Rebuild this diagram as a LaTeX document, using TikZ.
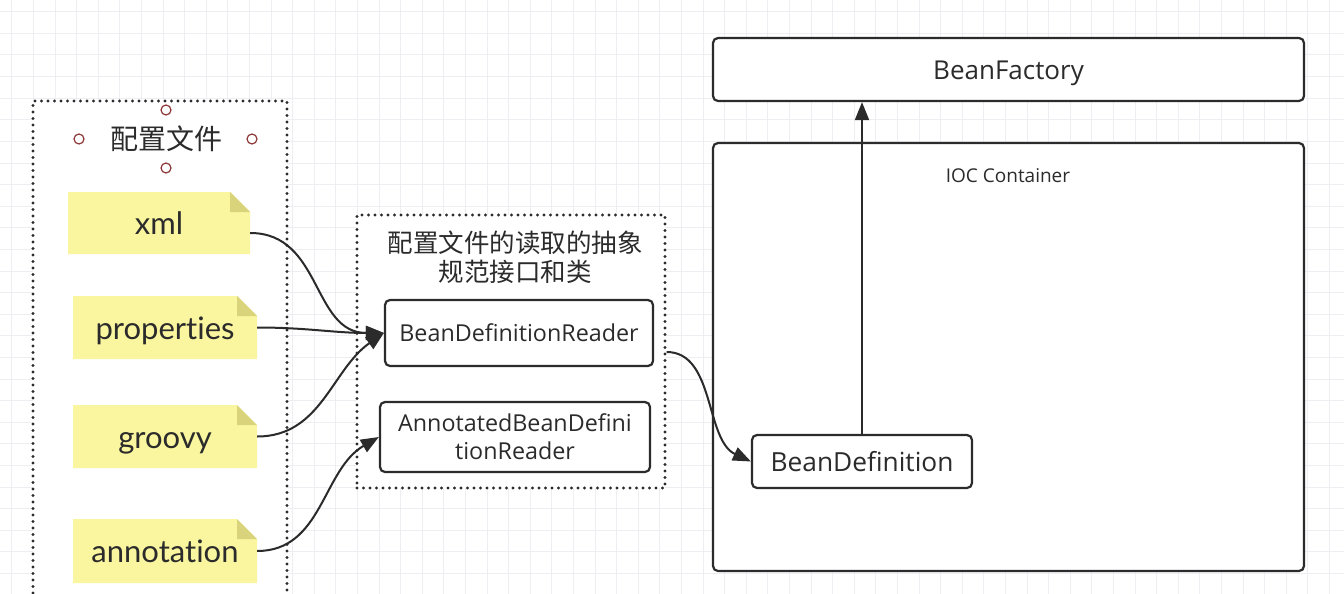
\documentclass[tikz,border=0pt]{standalone}
\usepackage{fontspec}
\setmainfont{Open Sans}
\newfontfamily\cjk{Noto Sans CJK SC}
\newfontfamily\notefont[Ligatures=NoCommon]{Lato}
\usetikzlibrary{arrows.meta,calc}
\definecolor{ink}{HTML}{2B2B2B}
\definecolor{notefill}{HTML}{FAF59F}
\definecolor{notefold}{HTML}{D9D37C}
\definecolor{handle}{HTML}{8E3A3A}
\definecolor{gridc}{HTML}{EDEDF2}

% sticky note: name, x1, y1, x2, y2, text
\newcommand\stickynote[6]{%
  \fill[notefill] (#2,#3) -- ({#4-20},#3) -- (#4,{#3+20}) -- (#4,#5) -- (#2,#5) -- cycle;
  \fill[notefold] ({#4-20},#3) -- (#4,{#3+20}) -- ({#4-20},{#3+20}) -- cycle;
  \node[notebox, minimum width={#4-#2}, minimum height={#5-#3}] (#1) at ({(#2+#4)/2},{(#3+#5)/2}) {#6};}

\begin{document}
\begin{tikzpicture}[x=1pt,y=-1pt,
  box/.style={draw=ink, line width=2.2pt, rounded corners=5pt, fill=white, text=ink, inner sep=0pt},
  group/.style={draw=ink, line width=3.2pt, line cap=round, dash pattern=on 0pt off 6.5pt, fill=white, inner sep=0pt},
  conn/.style={draw=ink, line width=2pt, -{Triangle[length=18pt,width=14pt]}},
  handlemark/.style={circle, draw=handle, line width=1.2pt, minimum size=10pt, inner sep=0pt},
  notebox/.style={inner sep=0pt, text=ink, text height=27pt, text depth=4pt, font=\notefont\fontsize{31}{34}\selectfont},
]
\fill[white] (0,0) rectangle (1344,594);
\useasboundingbox (0,0) rectangle (1344,594);
\clip (0,0) rectangle (1344,594);

% background grid
\foreach \i in {0,...,62} {
  \draw[gridc, line width=0.8pt] ({11.7+21.6*\i},0) -- ({11.7+21.6*\i},594);
}
\foreach \j in {0,...,27} {
  \draw[gridc, line width=0.8pt] (0,{11.7+21.6*\j}) -- (1344,{11.7+21.6*\j});
}

% configuration files group
\node[group, minimum width=254pt, minimum height=560pt] (files) at (160,381) {};
\node[text=ink, font=\cjk\fontsize{28}{32}\selectfont] (filestitle) at (166,139) {配置文件};
\node[handlemark] (hn) at (166,110) {};
\node[handlemark] (hw) at (79,139) {};
\node[handlemark] (he) at (252,139) {};
\node[handlemark] (hs) at (166,168) {};

\stickynote{xml}{68}{192}{250}{254}{xml}
\stickynote{props}{73}{296}{257}{359}{properties}
\stickynote{groovy}{73}{405}{257}{468}{groovy}
\stickynote{annot}{73}{519}{257}{583}{annotation}

% reader group
\node[group, minimum width=308pt, minimum height=273pt] (readers) at (511,351.5) {};
\node[text=ink, align=center, font=\cjk\fontsize{25.5}{29}\selectfont] (readtitle) at (515,257) {配置文件的读取的抽象\\规范接口和类};
\node[box, minimum width=268pt, minimum height=66pt, font=\fontsize{23.3}{27}\selectfont] (bdr) at (519,333) {BeanDefinitionReader};
\node[box, minimum width=270pt, minimum height=70pt, align=center, font=\fontsize{23.3}{28}\selectfont] (abdr) at (515,437) {AnnotatedBeanDefini\\tionReader};

% container side
\node[box, minimum width=591pt, minimum height=63pt] (bf) at (1008.5,69.5) {};
\node[text=ink, font=\fontsize{26}{30}\selectfont] (bflabel) at (1008.5,73) {BeanFactory};
\node[box, minimum width=591pt, minimum height=428pt] (ioc) at (1008.5,357) {};
\node[text=ink, font=\fontsize{19}{23}\selectfont] (ioclabel) at (1008,176) {IOC Container};
\node[box, minimum width=220pt, minimum height=53pt, font=\fontsize{26.3}{30}\selectfont] (bd) at (862,461.5) {BeanDefinition};

% connectors
\draw[conn] ($(xml.east)+(0,10)$) to[out=0,in=180,looseness=1.1] (bdr.west);
\draw[conn] (props.east) to[out=0,in=180] (bdr.west);
\draw[conn] (groovy.east) to[out=0,in=215,looseness=1] (bdr.west);
\draw[conn] (annot.east) to[out=0,in=210,looseness=1] (abdr.west);
\coordinate (bdrout) at ($(readers.east |- bdr.center)+(0,19)$);
\draw[conn] (bdrout) .. controls (715,352) and (705,440) .. (bd.west);
\draw[conn] (bd.north) -- (bd.north |- bf.south);
\end{tikzpicture}
\end{document}
